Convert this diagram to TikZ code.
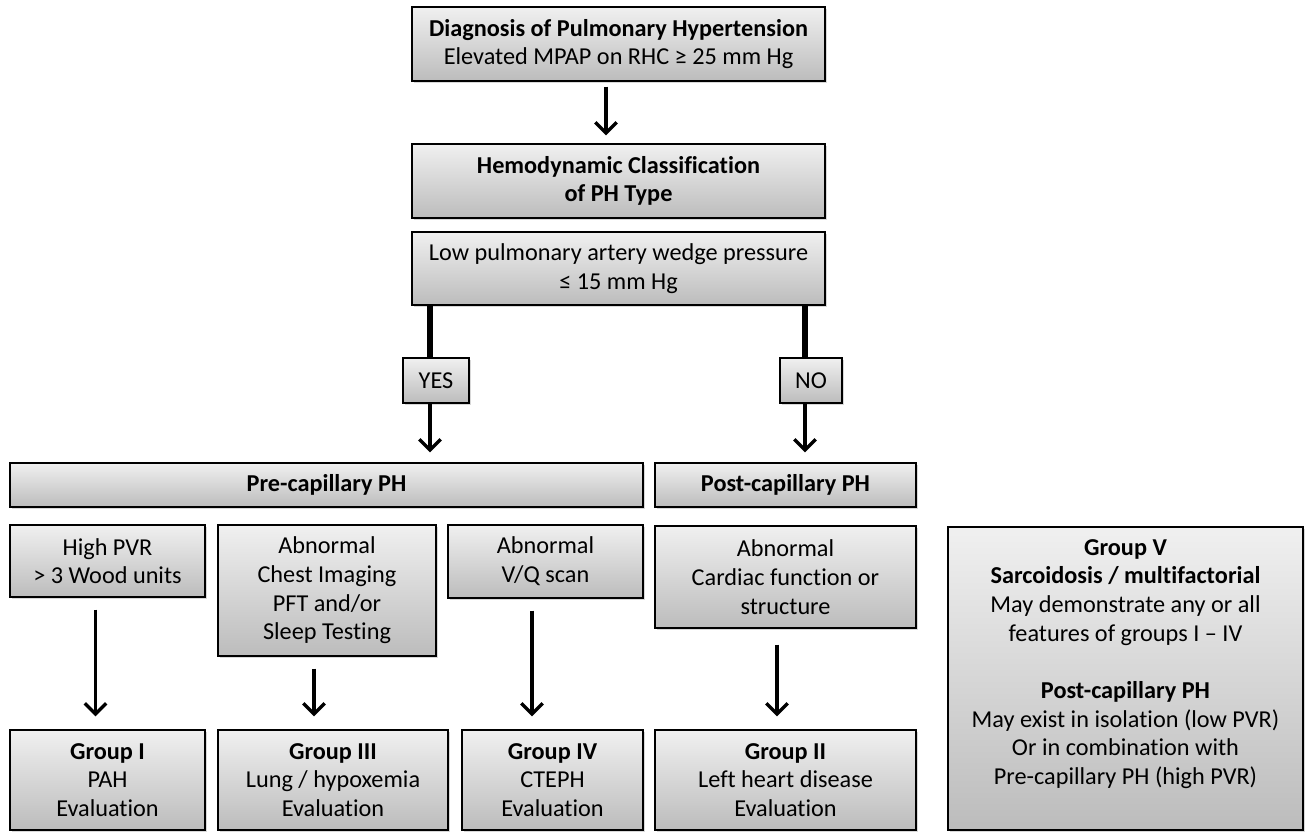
\documentclass[tikz,border=0pt]{standalone}
\usepackage{fontspec}
\setmainfont{Carlito}[Ligatures={TeX,NoCommon}]
\usetikzlibrary{arrows.meta,shadows,calc}
\definecolor{boxtop}{RGB}{240,240,240}
\definecolor{boxbot}{RGB}{188,188,188}
\tikzset{
  box/.style={draw=black, line width=1pt, top color=boxtop, bottom color=boxbot,
    inner sep=0pt, align=center,
    drop shadow={shadow xshift=1.2pt, shadow yshift=-1.5pt, opacity=0.3},
    font=\fontsize{18.2}{21.5}\selectfont},
  plain/.style={inner sep=0pt, align=center, font=\fontsize{18.2}{21.5}\selectfont},
  arr/.style={line width=2.5pt, -{Straight Barb[length=8pt,width=16pt]}},
  thk/.style={line width=4.5pt},
}
\newcommand\mybox[6]{\node[box, minimum width={(#4-#2)*0.75pt}, minimum height={(#5-#3)*0.75pt}] (#1) at ({(#2+#4)/2},{(#3+#5)/2}) {#6};}
\begin{document}
\begin{tikzpicture}[x=0.75pt,y=-0.75pt]
\fill[white] (0,0) rectangle (1310,834);
\useasboundingbox (0,0) rectangle (1310,834);

\mybox{diag}{412}{7}{825}{81}{\textbf{Diagnosis of Pulmonary Hypertension}\\Elevated MPAP on RHC ≥ 25 mm Hg}
\mybox{hemo}{412}{144}{825}{218}{\textbf{Hemodynamic Classification}\\\textbf{of PH Type}}
\mybox{low}{412}{232}{825}{305}{Low pulmonary artery wedge pressure\\≤ 15 mm Hg}
\mybox{yes}{403}{358}{469}{403}{YES}
\mybox{no}{780}{358}{842}{403}{NO}
\mybox{pre}{10}{463}{643}{507}{\textbf{Pre-capillary PH}}
\mybox{post}{655}{463}{916}{507}{\textbf{Post-capillary PH}}
\mybox{hpvr}{10}{525}{205}{597}{High PVR\\> 3 Wood units}
\mybox{chest}{218}{525}{436}{656}{Abnormal\\Chest Imaging\\PFT and/or\\Sleep Testing}
\mybox{vq}{448}{525}{643}{598}{Abnormal\\V/Q scan}
\mybox{card}{655}{526}{916}{628}{Abnormal\\Cardiac function or\\structure}
\mybox{g1}{10}{730}{205}{830}{\textbf{Group I}\\PAH\\Evaluation}
\mybox{g3}{218}{730}{448}{830}{\textbf{Group III}\\Lung / hypoxemia\\Evaluation}
\mybox{g4}{462}{730}{643}{830}{\textbf{Group IV}\\CTEPH\\Evaluation}
\mybox{g2}{655}{730}{916}{830}{\textbf{Group II}\\Left heart disease\\Evaluation}
\mybox{g5}{948}{527}{1303}{830}{}
\node[plain] (g5t) at (1125.5,664) {\textbf{Group V}\\\textbf{Sarcoidosis / multifactorial}\\May demonstrate any or all\\features of groups I -- IV\\[21.5pt]\textbf{Post-capillary PH}\\May exist in isolation (low PVR)\\Or in combination with\\Pre-capillary PH (high PVR)};

\draw[arr] ($(diag.south)+(-12.5,5)$) -- ($(hemo.north)+(-12.5,-8)$);
\draw[thk] ($(yes.north)+(-6,0)$) -- ($(yes.north |- low.south)+(-6,0)$);
\draw[thk] ($(no.north)+(-6,0)$) -- ($(no.north |- low.south)+(-6,0)$);
\draw[arr] ($(yes.south)+(-6,0)$) -- ($(yes.south |- pre.north)+(-6,-10)$);
\draw[arr] ($(no.south)+(-6,0)$) -- ($(no.south |- post.north)+(-6,-10)$);
\draw[arr] ($(hpvr.south)+(-12,12)$) -- ($(hpvr.south |- g1.north)+(-12,-13)$);
\draw[arr] ($(chest.south)+(-13,12)$) -- ($(chest.south |- g3.north)+(-13,-13)$);
\draw[arr] ($(vq.south)+(-13.5,12)$) -- ($(vq.south |- g4.north)+(-13.5,-13)$);
\draw[arr] ($(card.south)+(-8.5,16)$) -- ($(card.south |- g2.north)+(-8.5,-13)$);
\end{tikzpicture}
\end{document}
